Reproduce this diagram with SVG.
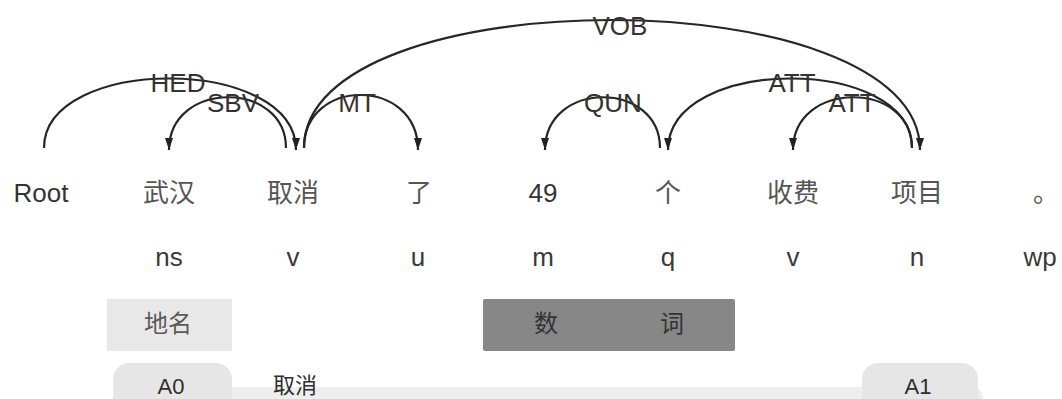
<svg xmlns="http://www.w3.org/2000/svg" width="1062" height="399" viewBox="0 0 1062 399">
  <defs>
    <marker id="arrow" viewBox="0 -5 13 10" refX="12" refY="0" markerWidth="13" markerHeight="10" markerUnits="userSpaceOnUse" orient="auto">
      <path d="M0,-4 L12,0 L0,4 z" fill="#222"/>
    </marker>
    <style>
      .arc { fill: none; stroke: #262626; stroke-width: 2.2; marker-end: url(#arrow); }
      .rel { font-family: "Liberation Sans", "Noto Sans CJK SC", sans-serif; font-size: 26px; fill: #333; text-anchor: middle; }
      .word { font-family: "Liberation Sans", "Noto Sans CJK SC", sans-serif; font-size: 26px; fill: #555; text-anchor: middle; }
      .root { fill: #333; }
      .pos { font-family: "Liberation Sans", "Noto Sans CJK SC", sans-serif; font-size: 26px; fill: #3a3a3a; text-anchor: middle; }
      .ner { font-family: "Noto Sans CJK SC", sans-serif; font-size: 24px; text-anchor: middle; }
      .role { font-family: "Liberation Sans", "Noto Sans CJK SC", sans-serif; font-size: 22px; fill: #2e2e2e; text-anchor: middle; }
      .pill { fill: #e6e6e6; }
    </style>
  </defs>

  <rect width="1062" height="399" fill="#fff"/>

  <!-- dependency arcs -->
  <g id="connectors">
    <path id="edge-hed" class="arc" d="M44,148 C44,55 296,55 296,150"/>
    <path id="edge-sbv" class="arc" d="M286,148 C286,80 169,80 169,150"/>
    <path id="edge-mt" class="arc" d="M304,148 C304,77 418,77 418,150"/>
    <path id="edge-vob" class="arc" d="M304,148 C304,-23 920,-23 920,150"/>
    <path id="edge-qun" class="arc" d="M660,148 C660,80 545,80 545,150"/>
    <path id="edge-att1" class="arc" d="M912,148 C912,55 668,55 668,150"/>
    <path id="edge-att2" class="arc" d="M912,148 C912,80 793,80 793,150"/>
    <text class="rel" x="178" y="92">HED</text>
    <text class="rel" x="233" y="112">SBV</text>
    <text class="rel" x="357" y="112">MT</text>
    <text class="rel" x="620" y="35">VOB</text>
    <text class="rel" x="613" y="112">QUN</text>
    <text class="rel" x="792" y="92">ATT</text>
    <text class="rel" x="852" y="112">ATT</text>
  </g>

  <!-- tokens: word and part-of-speech tag -->
  <g id="token-root"><text class="word root" x="41" y="202">Root</text></g>
  <g id="token-1"><text class="word" x="169" y="202">武汉</text><text class="pos" x="169" y="266">ns</text></g>
  <g id="token-2"><text class="word" x="293" y="202">取消</text><text class="pos" x="293" y="266">v</text></g>
  <g id="token-3"><text class="word" x="419" y="202">了</text><text class="pos" x="418" y="266">u</text></g>
  <g id="token-4"><text class="word root" x="543" y="202">49</text><text class="pos" x="543" y="266">m</text></g>
  <g id="token-5"><text class="word" x="668" y="202">个</text><text class="pos" x="668" y="266">q</text></g>
  <g id="token-6"><text class="word" x="793" y="202">收费</text><text class="pos" x="793" y="266">v</text></g>
  <g id="token-7"><text class="word" x="917" y="202">项目</text><text class="pos" x="917" y="266">n</text></g>
  <g id="token-8"><text class="word" x="1046" y="202">。</text><text class="pos" x="1040" y="266">wp</text></g>

  <!-- named entity spans -->
  <g id="ner-place">
    <rect x="107" y="299" width="125" height="52" fill="#e8e8e8"/>
    <text class="ner" x="168" y="332" fill="#5a5a5a">地名</text>
  </g>
  <g id="ner-numeral">
    <rect x="483" y="299" width="252" height="52" rx="2" fill="#878787"/>
    <text class="ner" x="546" y="332" fill="#333">数</text>
    <text class="ner" x="672" y="332" fill="#333">词</text>
  </g>

  <!-- semantic role frame -->
  <g id="srl-frame">
    <rect x="113" y="387" width="870" height="30" rx="10" fill="#eeeeee"/>
  </g>
  <g id="srl-a0">
    <rect class="pill" x="113" y="363" width="119" height="50" rx="16"/>
    <text class="role" x="171" y="394">A0</text>
  </g>
  <g id="srl-predicate">
    <text class="role" x="295" y="393">取消</text>
  </g>
  <g id="srl-a1">
    <rect class="pill" x="862" y="363" width="116" height="50" rx="16"/>
    <text class="role" x="918" y="394">A1</text>
  </g>
</svg>
